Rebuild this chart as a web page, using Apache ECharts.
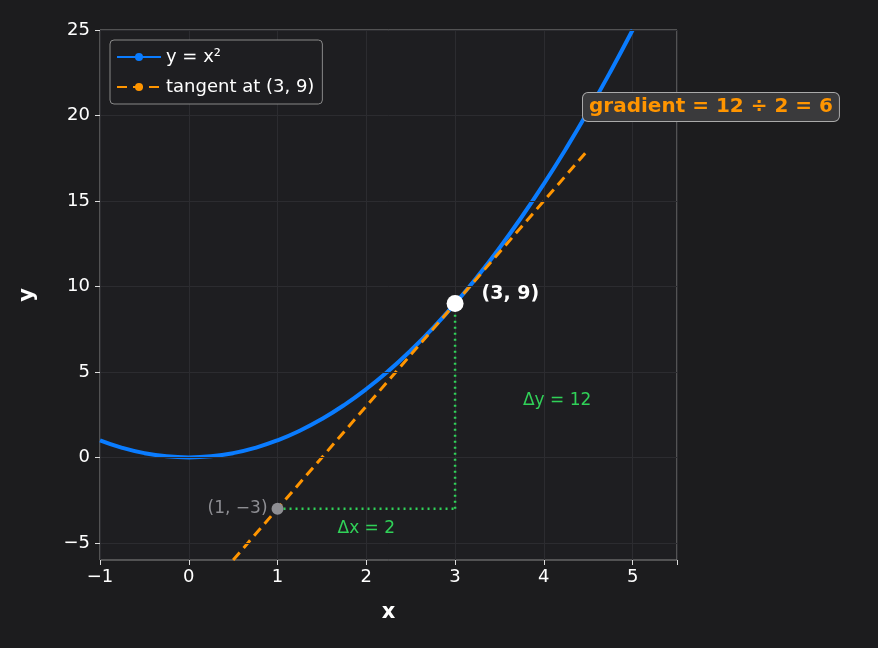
<!DOCTYPE html>
<html><head><meta charset="utf-8">
<script src="https://cdn.jsdelivr.net/npm/echarts@6/dist/echarts.min.js"></script>
<style>html,body{margin:0;background:#1c1c1e}#c{width:878px;height:648px}</style>
</head><body><div id="c"></div>
<script>
const curveX = [-1,-0.75,-0.5,-0.25,0,0.25,0.5,0.75,1,1.25,1.5,1.75,2,2.25,2.5,2.75,3,3.25,3.5,3.75,4,4.25,4.5,4.75,5];
const curveY = [1,0.5625,0.25,0.0625,0,0.0625,0.25,0.5625,1,1.5625,2.25,3.0625,4,5.0625,6.25,7.5625,9,10.5625,12.25,14.0625,16,18.0625,20.25,22.5625,25];
const tangentPts = [[0.5,-6],[4.5,18]];
const dxPts = [[1,-3],[3,-3]];
const dyPts = [[3,-3],[3,9]];
const tanPoint = [3,9];
const runPoint = [1,-3];
const xTicks = [-1,0,1,2,3,4,5];
const yTicks = [-5,0,5,10,15,20,25];
const txt = '#ffffff', font = 'DejaVu Sans';
const gridCol = '#2c2c30';
const chart = echarts.init(document.getElementById('c'));
chart.setOption({
  backgroundColor:'#1c1c1e',
  animation:false,
  textStyle:{fontFamily:font},
  grid:{left:100,top:30,width:577,height:530,show:true,backgroundColor:'#1e1e21',borderColor:'#888',borderWidth:1},
  legend:{left:110,top:40,orient:'vertical',itemWidth:44,itemHeight:10,itemGap:12,padding:[8,8,8,6],
    backgroundColor:'#1e1e21',borderColor:'#888',borderWidth:1,borderRadius:4,
    textStyle:{color:txt,fontSize:18,fontFamily:font},data:['y = x²','tangent at (3, 9)']},
  xAxis:{type:'value',min:-1,max:5.5,interval:1,name:'x',nameLocation:'middle',nameGap:42,
    nameTextStyle:{color:txt,fontSize:21,fontWeight:'bold'},
    axisLine:{show:false,onZero:false},axisTick:{show:true,length:5,lineStyle:{color:'#ddd'}},
    axisLabel:{color:txt,fontSize:18,margin:8,formatter:v=>xTicks.includes(v)?String(v).replace('-','−'):''},
    splitLine:{show:true,lineStyle:{color:gridCol}}},
  yAxis:{type:'value',min:-6,max:25,name:'y',nameLocation:'middle',nameGap:62,
    nameTextStyle:{color:txt,fontSize:21,fontWeight:'bold'},
    axisLine:{show:false,onZero:false},
    axisTick:{show:true,length:5,lineStyle:{color:'#ddd'},customValues:yTicks},
    axisLabel:{color:txt,fontSize:18,margin:10,customValues:yTicks,formatter:v=>String(v).replace('-','−')},
    splitLine:{show:false}},
  series:[
    {name:'y = x²',type:'line',smooth:true,symbol:'none',data:curveX.map((x,i)=>[x,curveY[i]]),
      lineStyle:{color:'#0a7cff',width:4},itemStyle:{color:'#0a7cff'},z:3,
      markLine:{silent:true,symbol:'none',label:{show:false},lineStyle:{color:gridCol,width:1,type:'solid'},
        data:yTicks.map(v=>({yAxis:v}))}},
    {name:'tangent at (3, 9)',type:'line',symbol:'none',data:tangentPts,
      lineStyle:{color:'#ff9500',width:3,type:[10,6]},itemStyle:{color:'#ff9500'},z:4},
    {type:'line',symbol:'none',data:dxPts,lineStyle:{color:'#30d158',width:2.5,type:[2,4]},z:2,
      markPoint:{symbol:'circle',symbolSize:0,data:[{coord:[2,-3],label:{show:true,formatter:'Δx = 2',color:'#30d158',fontSize:17,offset:[0,20]}}]}},
    {type:'line',symbol:'none',data:dyPts,lineStyle:{color:'#30d158',width:2.5,type:[2,4]},z:2,
      markPoint:{symbol:'circle',symbolSize:0,data:[{coord:[3,3.3],label:{show:true,formatter:'Δy = 12',color:'#30d158',fontSize:17,offset:[102,0]}}]}},
    {type:'scatter',data:[tanPoint],symbolSize:17,itemStyle:{color:'#fff',opacity:1},z:6,
      label:{show:true,formatter:'(3, 9)',position:'right',distance:18,color:'#fff',fontSize:19,fontWeight:'bold',offset:[0,-9]}},
    {type:'scatter',data:[runPoint],symbolSize:12,itemStyle:{color:'#8e8e93',opacity:1},z:6,
      label:{show:true,formatter:'(1, −3)',position:'left',distance:4,color:'#8e8e93',fontSize:17}}
  ],
  graphic:[{type:'text',left:582,top:92,z:100,style:{text:'gradient = 12 ÷ 2 = 6',fill:'#ff9500',font:'bold 20px DejaVu Sans',
    backgroundColor:'#3a3a3c',borderColor:'#aaa',borderWidth:1,borderRadius:5,padding:[4,6]}}]
});
</script></body></html>
